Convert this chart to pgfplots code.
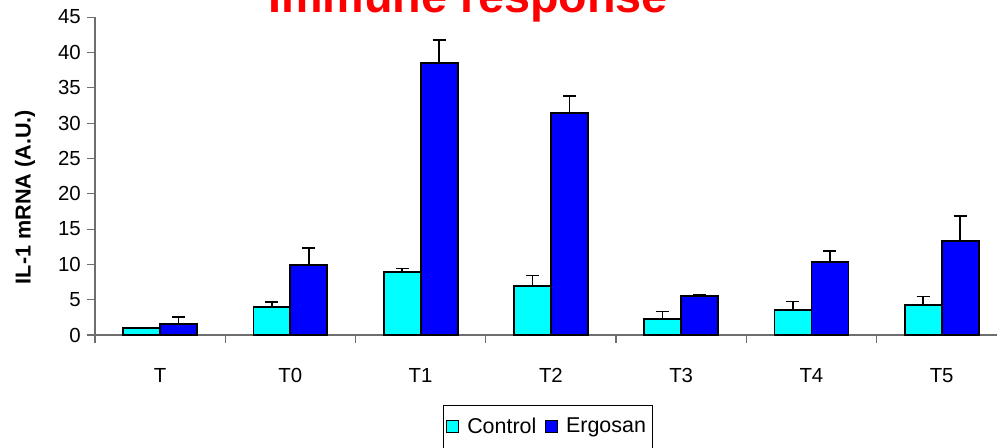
\documentclass[border=0pt]{standalone}
\usepackage{pgfplots}
\pgfplotsset{compat=1.18}
\usepackage{fontspec}
\setmainfont{Liberation Sans}
\definecolor{ctrl}{RGB}{0,255,255}
\definecolor{ergo}{RGB}{0,0,255}
\definecolor{axgray}{RGB}{110,110,110}
\begin{document}
\begin{tikzpicture}[x=0.02cm,y=0.02cm]
\begin{axis}[
  at={(1.9cm,2.26cm)}, anchor=south west,
  scale only axis, width=18.24cm, height=6.36cm,
  ybar=0pt, bar width=0.74cm,
  xmin=-0.5, xmax=6.5, ymin=0, ymax=45,
  ytick={0,5,...,45},
  xtick={0,...,6},
  xticklabels={T,T0,T1,T2,T3,T4,T5},
  minor xtick={-0.5,0.5,...,6.5},
  axis x line=bottom, axis y line=left,
  axis line style={axgray, line width=0.6pt, -},
  tick align=outside,
  major tick length=0.16cm, minor tick length=0.16cm,
  x tick style={draw=none},
  minor x tick style={draw=axgray, line width=0.6pt},
  y tick style={draw=axgray, line width=0.6pt},
  /pgf/number format/assume math mode=true,
  tick label style={font=\fontsize{11.6}{13}\selectfont},
  xticklabel style={anchor=base},
  xticklabel shift=0.78cm,
  legend columns=2,
  legend style={at={(0.4967,-0.289)}, anchor=center, draw=black, line width=0.5pt,
    font=\fontsize{12.2}{14}\selectfont, inner xsep=1.5pt, inner ysep=5pt,
    /tikz/every odd column/.append style={column sep=2.5pt},
    /tikz/every even column/.append style={column sep=3pt}},
  legend image code/.code={\draw[#1, line width=0.6pt] (0cm,-0.12cm) rectangle (0.24cm,0.12cm);},
  every axis plot/.append style={draw=black, line width=1pt},
  error bars/y dir=plus, error bars/y explicit,
  error bars/error bar style={black, line width=0.9pt},
  error bars/error mark options={rotate=90, black, mark size=0.13cm, line width=0.9pt},
]
\addplot[fill=ctrl] coordinates {
  (0,1.03) +- (0,0.05)
  (1,4.00) +- (0,0.71)
  (2,8.91) +- (0,0.52)
  (3,6.93) +- (0,1.47)
  (4,2.26) +- (0,1.04)
  (5,3.49) +- (0,1.23)
  (6,4.20) +- (0,1.27)
};
\addplot[fill=ergo] coordinates {
  (0,1.51) +- (0,1.04)
  (1,9.95) +- (0,2.40)
  (2,38.53) +- (0,3.21)
  (3,31.37) +- (0,2.50)
  (4,5.47) +- (0,0.29)
  (5,10.38) +- (0,1.51)
  (6,13.35) +- (0,3.49)
};
\legend{Control,Ergosan}
\end{axis}
\node[anchor=base, text=red, font=\fontsize{26.6}{30}\selectfont\bfseries] at (468,435.5) {Immune response};
\node[rotate=90, anchor=center, font=\fontsize{12.3}{14}\selectfont\bfseries] at (25,251) {IL-1 mRNA (A.U.)};
\pgfresetboundingbox
\useasboundingbox (0,0) rectangle (997,448);
\end{tikzpicture}
\end{document}
